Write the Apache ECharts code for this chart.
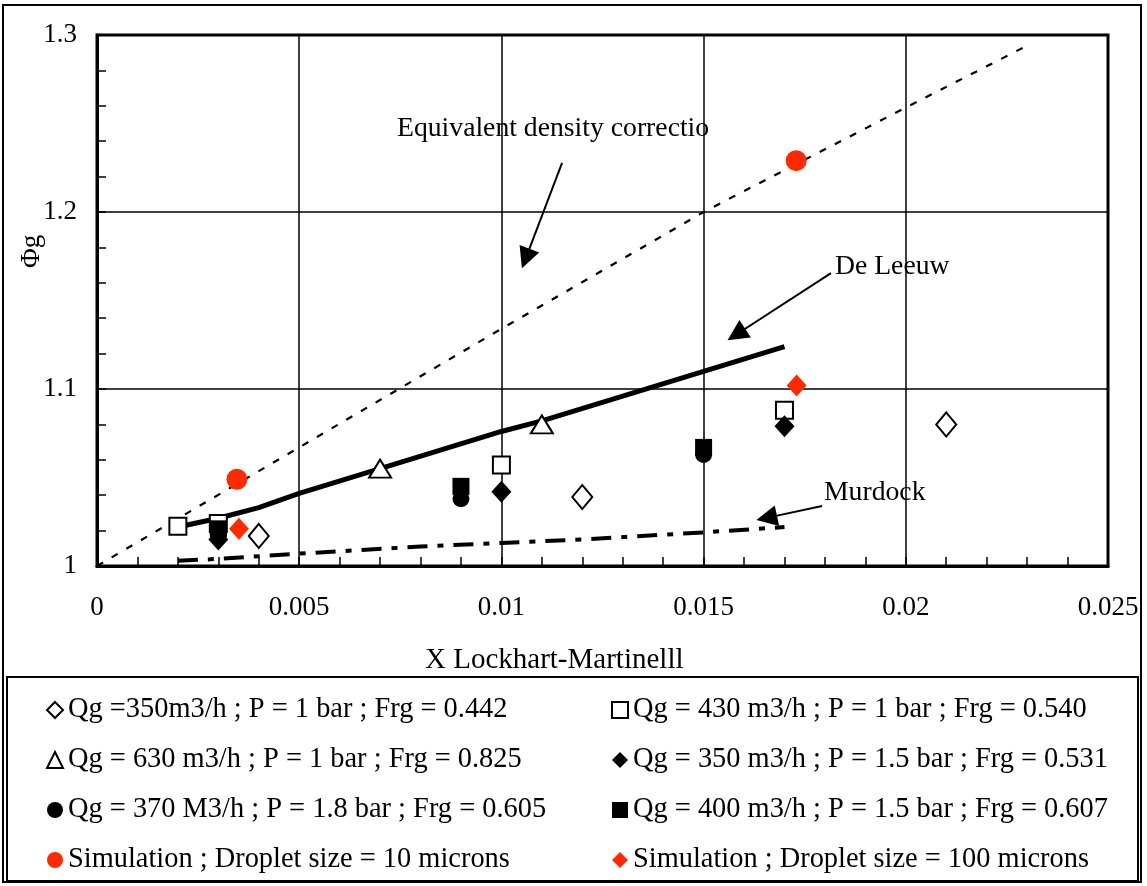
<!DOCTYPE html>
<html>
<head>
<meta charset="utf-8">
<script src="https://cdn.jsdelivr.net/npm/echarts@6/dist/echarts.min.js"></script>
<style>
html,body{margin:0;padding:0;background:#fff;}
#chart{width:1147px;height:886px;}
</style>
</head>
<body>
<div id="chart"></div>
<script>
// ---- data ----
const nameOpenDiamond = 'Qg =350m3/h ; P = 1 bar ; Frg = 0.442';
const nameOpenSquare = 'Qg = 430 m3/h ; P = 1 bar ; Frg = 0.540';
const nameOpenTriangle = 'Qg = 630 m3/h ; P = 1 bar ; Frg = 0.825';
const nameFilledDiamond = 'Qg = 350 m3/h ; P = 1.5 bar ; Frg = 0.531';
const nameFilledCircle = 'Qg = 370 M3/h ; P = 1.8 bar ; Frg = 0.605';
const nameFilledSquare = 'Qg = 400 m3/h ; P = 1.5 bar ; Frg = 0.607';
const nameSim10 = 'Simulation ; Droplet size = 10 microns';
const nameSim100 = 'Simulation ; Droplet size = 100 microns';

const openDiamondX = [0.004, 0.012, 0.021];
const openDiamondY = [1.017, 1.039, 1.080];
const openSquareX = [0.002, 0.003, 0.010, 0.017];
const openSquareY = [1.0225, 1.024, 1.057, 1.088];
const openTriangleX = [0.007, 0.011];
const openTriangleY = [1.055, 1.080];
const filledDiamondX = [0.003, 0.010, 0.017];
const filledDiamondY = [1.015, 1.042, 1.079];
const filledCircleX = [0.003, 0.009, 0.015];
const filledCircleY = [1.018, 1.038, 1.063];
const filledSquareX = [0.003, 0.009, 0.015];
const filledSquareY = [1.021, 1.045, 1.067];
const sim10X = [0.00346, 0.01729];
const sim10Y = [1.049, 1.229];
const sim100X = [0.00351, 0.0173];
const sim100Y = [1.021, 1.102];

const eqDensityX = [0, 0.005, 0.010, 0.015, 0.020, 0.023];
const eqDensityY = [1.000, 1.067, 1.134, 1.200, 1.259, 1.294];
const deLeeuwX = [0.002, 0.003, 0.004, 0.005, 0.007, 0.010, 0.011, 0.015, 0.017];
const deLeeuwY = [1.022, 1.027, 1.033, 1.041, 1.055, 1.076, 1.082, 1.110, 1.124];
const murdockX = [0.002, 0.003, 0.005, 0.008, 0.010, 0.012, 0.015, 0.017];
const murdockY = [1.003, 1.004, 1.007, 1.011, 1.013, 1.015, 1.019, 1.022];

const xTicks = [0, 0.005, 0.01, 0.015, 0.02, 0.025];
const yTicks = [1, 1.1, 1.2, 1.3];

const xTitle = 'X Lockhart-Martinelll';
const yTitle = 'Φg';
const labelEq = 'Equivalent density correctio';
const labelDeLeeuw = 'De Leeuw';
const labelMurdock = 'Murdock';

// ---- helpers ----
const zip = (xs, ys) => xs.map((x, i) => [x, ys[i]]);
const FONT = '"Liberation Serif", "Times New Roman", serif';
const FS = 27;
const FS_LEG = 28.4;
const FS_ANN = 27.7;
const FS_TITLE = 29;

const chart = echarts.init(document.getElementById('chart'), null, {renderer: 'canvas'});

function scatter(name, xs, ys, symbol, size, fill, stroke, bw) {
  return {
    type: 'scatter', name: name, data: zip(xs, ys), symbol: symbol, symbolSize: size,
    itemStyle: {color: fill, borderColor: stroke, borderWidth: bw, opacity: 1},
    emphasis: {disabled: true}, z: 5
  };
}

// arrow annotations (data coordinates: start, end)
const arrows = [
  [[0.0115, 1.2277], [0.0106, 1.1737]],
  [[0.01815, 1.1655], [0.01581, 1.1308]],
  [[0.01793, 1.0339], [0.01656, 1.0272]]
];

const option = {
  backgroundColor: '#fff',
  animation: false,
  grid: {left: 97, top: 35, right: 39, bottom: 320, show: true, borderColor: '#000', borderWidth: 3, containLabel: false},
  xAxis: [{
    type: 'value', min: 0, max: 0.025, interval: 0.005,
    axisLine: {show: true, lineStyle: {color: '#000', width: 3}},
    axisTick: {show: true, inside: true, length: 9, lineStyle: {color: '#000', width: 1.5}},
    minorTick: {show: true, splitNumber: 5, length: 9, lineStyle: {color: '#000', width: 1.5}},
    splitLine: {show: true, lineStyle: {color: '#000', width: 1.5}},
    axisLabel: {color: '#000', fontFamily: FONT, fontSize: FS, margin: 28,
      formatter: v => String(+v.toFixed(3))}
  }],
  yAxis: {
    type: 'value', min: 1, max: 1.3, interval: 0.1,
    axisLine: {show: true, lineStyle: {color: '#000', width: 3}},
    axisTick: {show: true, inside: true, length: 9, lineStyle: {color: '#000', width: 1.5}},
    minorTick: {show: true, splitNumber: 5, length: 9, lineStyle: {color: '#000', width: 1.5}},
    splitLine: {show: true, lineStyle: {color: '#000', width: 1.5}},
    axisLabel: {color: '#000', fontFamily: FONT, fontSize: FS, margin: 20,
      formatter: v => String(+v.toFixed(1))}
  },
  legend: [
    {
      data: [nameOpenDiamond, nameOpenTriangle, nameFilledCircle, nameSim10],
      orient: 'vertical', left: 41, top: 690, itemGap: 20, itemWidth: 16, itemHeight: 16,
      selectedMode: false,
      textStyle: {color: '#000', fontFamily: FONT, fontSize: FS_LEG, lineHeight: 30}
    },
    {
      data: [nameOpenSquare, nameFilledDiamond, nameFilledSquare, nameSim100],
      orient: 'vertical', left: 606, top: 690, itemGap: 20, itemWidth: 16, itemHeight: 16,
      selectedMode: false,
      textStyle: {color: '#000', fontFamily: FONT, fontSize: FS_LEG, lineHeight: 30}
    }
  ],
  graphic: [
    {type: 'rect', shape: {x: 3, y: 5, width: 1138, height: 877}, style: {fill: 'none', stroke: '#000', lineWidth: 2}, z: 0, silent: true},
    {type: 'rect', shape: {x: 7, y: 677, width: 1131, height: 204}, style: {fill: 'none', stroke: '#000', lineWidth: 2}, z: 0, silent: true},
    {type: 'text', left: 425, top: 646, style: {text: xTitle, font: FS_TITLE + 'px ' + FONT, fill: '#000'}, silent: true},
    {type: 'text', x: 18, y: 268, rotation: Math.PI / 2, style: {text: yTitle, font: FS + 'px ' + FONT, fill: '#000'}, silent: true},
    {type: 'text', x: 397, y: 115, style: {text: labelEq, font: FS_ANN + 'px ' + FONT, fill: '#000'}, silent: true, z: 10},
    {type: 'text', x: 835, y: 253, style: {text: labelDeLeeuw, font: FS_ANN + 'px ' + FONT, fill: '#000'}, silent: true, z: 10},
    {type: 'text', x: 824, y: 479, style: {text: labelMurdock, font: FS_ANN + 'px ' + FONT, fill: '#000'}, silent: true, z: 10}
  ],
  series: [
    {
      type: 'line', name: 'eq', data: zip(eqDensityX, eqDensityY), showSymbol: false, symbol: 'none',
      lineStyle: {color: '#000', width: 2.2, type: [7, 10]}, z: 3, silent: true
    },
    {
      type: 'line', name: 'deleeuw', data: zip(deLeeuwX, deLeeuwY), showSymbol: false, symbol: 'none',
      lineStyle: {color: '#000', width: 5}, z: 3, silent: true,
      markLine: {
        silent: true, symbol: ['none', 'triangle'], symbolSize: 21,
        label: {show: false},
        lineStyle: {color: '#000', width: 2, type: 'solid'},
        itemStyle: {color: '#000'},
        data: arrows.map(a => [{coord: a[0]}, {coord: a[1]}])
      }
    },
    {
      type: 'line', name: 'murdock', data: zip(murdockX, murdockY), showSymbol: false, symbol: 'none',
      lineStyle: {color: '#000', width: 4, type: [20, 10, 6, 10]}, z: 3, silent: true
    },
    scatter(nameOpenDiamond, openDiamondX, openDiamondY, 'diamond', [20, 24], '#fff', '#000', 2),
    scatter(nameOpenSquare, openSquareX, openSquareY, 'rect', 17, '#fff', '#000', 2),
    scatter(nameOpenTriangle, openTriangleX, openTriangleY, 'triangle', [22, 18], '#fff', '#000', 2),
    scatter(nameFilledSquare, filledSquareX, filledSquareY, 'rect', 17, '#000', '#000', 0),
    scatter(nameFilledCircle, filledCircleX, filledCircleY, 'circle', 17, '#000', '#000', 0),
    scatter(nameFilledDiamond, filledDiamondX, filledDiamondY, 'diamond', [20, 22], '#000', '#000', 0),
    scatter(nameSim10, sim10X, sim10Y, 'circle', 21, '#ff2a00', '#ff2a00', 0),
    scatter(nameSim100, sim100X, sim100Y, 'diamond', [20, 22], '#ff2a00', '#ff2a00', 0)
  ]
};
chart.setOption(option);
</script>
</body>
</html>
